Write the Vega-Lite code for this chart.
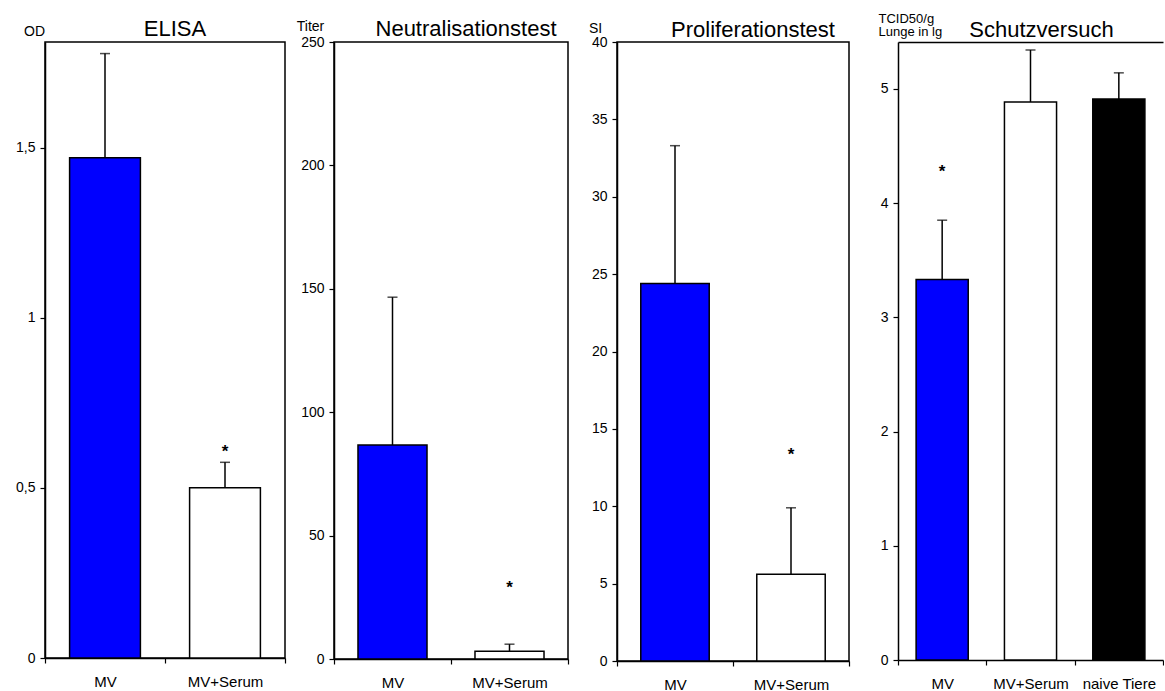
{
  "$schema": "https://vega.github.io/schema/vega-lite/v6.json",
  "background": "white",
  "padding": {"left": 14, "top": 12, "right": 0, "bottom": 0},
  "autosize": {"type": "pad"},
  "bounds": "flush",
  "spacing": 49,
  "config": {
    "font": "Liberation Sans",
    "view": {"stroke": "black", "strokeWidth": 1.5},
    "axis": {
      "domainColor": "black", "domainWidth": 1.5,
      "tickColor": "black", "tickWidth": 1.2, "tickSize": 5,
      "labelColor": "black", "labelFont": "Liberation Sans", "labelFontSize": 14,
      "titleFont": "Liberation Sans", "titleFontWeight": "normal", "titleColor": "black",
      "grid": false
    },
    "axisX": {"labelAngle": 0, "labelPadding": 11, "labelFontSize": 15, "tickBand": "extent", "title": null},
    "axisY": {"labelPadding": 5, "titleAngle": 0, "titleFontSize": 14, "titleBaseline": "alphabetic", "titleAlign": "center"},
    "title": {"fontSize": 22, "fontWeight": "normal", "font": "Liberation Sans", "color": "black", "frame": "group", "anchor": "middle", "offset": 4},
    "tick": {"color": "black"},
    "rule": {"color": "black"}
  },
  "hconcat": [
    {
      "width": 240, "height": 616,
      "title": {"text": "ELISA", "dx": 10, "dy": 21},
      "data": {"values": [
        {"gruppe": "MV", "wert": 1.47, "fehler": 1.776, "stern": null},
        {"gruppe": "MV+Serum", "wert": 0.5, "fehler": 0.575, "stern": 0.617}
      ]},
      "encoding": {
        "x": {"field": "gruppe", "type": "nominal", "sort": null, "scale": {"paddingInner": 0, "paddingOuter": 0}}
      },
      "layer": [
        {"mark": {"type": "rule", "strokeWidth": 1.5},
         "encoding": {
           "y": {"field": "wert", "type": "quantitative", "scale": {"domain": [0, 1.81], "nice": false},
                 "axis": {"title": "OD", "titleX": -11, "titleY": -7, "values": [0, 0.5, 1, 1.5],
                          "labelExpr": "replace(toString(datum.value), '.', ',')"}},
           "y2": {"field": "fehler"}}},
        {"mark": {"type": "bar", "width": {"band": 0.59}, "stroke": "black", "strokeWidth": 1.5},
         "encoding": {
           "y": {"field": "wert", "type": "quantitative"},
           "fill": {"field": "gruppe", "type": "nominal", "legend": null,
                    "scale": {"domain": ["MV", "MV+Serum", "naive Tiere"], "range": ["#0000ff", "#ffffff", "#000000"]}}}},
        {"mark": {"type": "tick", "size": 10, "thickness": 1.5},
         "encoding": {"y": {"field": "fehler", "type": "quantitative"}}},
        {"transform": [{"filter": "datum.stern != null"}],
         "mark": {"type": "text", "text": "*", "fontSize": 17, "fontWeight": "bold", "baseline": "alphabetic", "dy": 9, "color": "black"},
         "encoding": {"y": {"field": "stern", "type": "quantitative"}}}
      ]
    },
    {
      "width": 234, "height": 617,
      "title": {"text": "Neutralisationstest", "dx": 15, "dy": 26},
      "data": {"values": [
        {"gruppe": "MV", "wert": 86.7, "fehler": 146.6, "stern": null},
        {"gruppe": "MV+Serum", "wert": 3.1, "fehler": 6.0, "stern": 30.4}
      ]},
      "encoding": {
        "x": {"field": "gruppe", "type": "nominal", "sort": null, "scale": {"paddingInner": 0, "paddingOuter": 0}}
      },
      "layer": [
        {"mark": {"type": "rule", "strokeWidth": 1.5},
         "encoding": {
           "y": {"field": "wert", "type": "quantitative", "scale": {"domain": [0, 250], "nice": false},
                 "axis": {"title": "Titer", "titleX": -24, "titleY": -12, "values": [0, 50, 100, 150, 200, 250]}},
           "y2": {"field": "fehler"}}},
        {"mark": {"type": "bar", "width": {"band": 0.59}, "stroke": "black", "strokeWidth": 1.5},
         "encoding": {
           "y": {"field": "wert", "type": "quantitative"},
           "fill": {"field": "gruppe", "type": "nominal", "legend": null,
                    "scale": {"domain": ["MV", "MV+Serum", "naive Tiere"], "range": ["#0000ff", "#ffffff", "#000000"]}}}},
        {"mark": {"type": "tick", "size": 10, "thickness": 1.5},
         "encoding": {"y": {"field": "fehler", "type": "quantitative"}}},
        {"transform": [{"filter": "datum.stern != null"}],
         "mark": {"type": "text", "text": "*", "fontSize": 17, "fontWeight": "bold", "baseline": "alphabetic", "dy": 9, "color": "black"},
         "encoding": {"y": {"field": "stern", "type": "quantitative"}}}
      ]
    },
    {
      "width": 232, "height": 619,
      "title": {"text": "Proliferationstest", "dx": 20, "dy": 25},
      "data": {"values": [
        {"gruppe": "MV", "wert": 24.4, "fehler": 33.3, "stern": null},
        {"gruppe": "MV+Serum", "wert": 5.6, "fehler": 9.9, "stern": 13.6}
      ]},
      "encoding": {
        "x": {"field": "gruppe", "type": "nominal", "sort": null, "scale": {"paddingInner": 0, "paddingOuter": 0}}
      },
      "layer": [
        {"mark": {"type": "rule", "strokeWidth": 1.5},
         "encoding": {
           "y": {"field": "wert", "type": "quantitative", "scale": {"domain": [0, 40], "nice": false},
                 "axis": {"title": "SI", "titleX": -22, "titleY": -10, "values": [0, 5, 10, 15, 20, 25, 30, 35, 40]}},
           "y2": {"field": "fehler"}}},
        {"mark": {"type": "bar", "width": {"band": 0.59}, "stroke": "black", "strokeWidth": 1.5},
         "encoding": {
           "y": {"field": "wert", "type": "quantitative"},
           "fill": {"field": "gruppe", "type": "nominal", "legend": null,
                    "scale": {"domain": ["MV", "MV+Serum", "naive Tiere"], "range": ["#0000ff", "#ffffff", "#000000"]}}}},
        {"mark": {"type": "tick", "size": 10, "thickness": 1.5},
         "encoding": {"y": {"field": "fehler", "type": "quantitative"}}},
        {"transform": [{"filter": "datum.stern != null"}],
         "mark": {"type": "text", "text": "*", "fontSize": 17, "fontWeight": "bold", "baseline": "alphabetic", "dy": 9, "color": "black"},
         "encoding": {"y": {"field": "stern", "type": "quantitative"}}}
      ]
    },
    {
      "width": 265, "height": 618,
      "view": {"stroke": null},
      "title": {"text": "Schutzversuch", "dx": 11, "dy": 34},
      "data": {"values": [
        {"gruppe": "MV", "wert": 3.33, "fehler": 3.85, "stern": 4.31},
        {"gruppe": "MV+Serum", "wert": 4.885, "fehler": 5.34, "stern": null},
        {"gruppe": "naive Tiere", "wert": 4.91, "fehler": 5.14, "stern": null}
      ]},
      "resolve": {"axis": {"x": "independent"}},
      "layer": [
        {
          "encoding": {
            "x": {"field": "gruppe", "type": "nominal", "sort": null, "scale": {"paddingInner": 0, "paddingOuter": 0}}
          },
          "layer": [
            {"mark": {"type": "rule", "strokeWidth": 1.5},
             "encoding": {
               "y": {"field": "wert", "type": "quantitative", "scale": {"domain": [0, 5.41], "nice": false},
                     "axis": {"title": ["TCID50/g", "Lunge in lg"], "titleAlign": "left", "titleBaseline": "alphabetic",
                              "titleFontSize": 13, "titleLineHeight": 13, "titleX": -20, "titleY": -20,
                              "values": [0, 1, 2, 3, 4, 5], "format": "d"}},
               "y2": {"field": "fehler"}}},
            {"mark": {"type": "bar", "width": {"band": 0.59}, "stroke": "black", "strokeWidth": 1.5},
             "encoding": {
               "y": {"field": "wert", "type": "quantitative"},
               "fill": {"field": "gruppe", "type": "nominal", "legend": null,
                        "scale": {"domain": ["MV", "MV+Serum", "naive Tiere"], "range": ["#0000ff", "#ffffff", "#000000"]}}}},
            {"transform": [{"filter": "datum.stern != null"}],
             "mark": {"type": "text", "text": "*", "fontSize": 17, "fontWeight": "bold", "baseline": "alphabetic", "dy": 9, "color": "black"},
             "encoding": {"y": {"field": "stern", "type": "quantitative"}}}
          ]
        },
        {"mark": {"type": "tick", "size": 10, "thickness": 1.5},
         "encoding": {
           "x": {"field": "gruppe", "type": "nominal", "sort": null,
                 "axis": {"orient": "top", "labels": false, "ticks": false, "domain": true, "title": null}},
           "y": {"field": "fehler", "type": "quantitative"}}}
      ]
    }
  ]
}
